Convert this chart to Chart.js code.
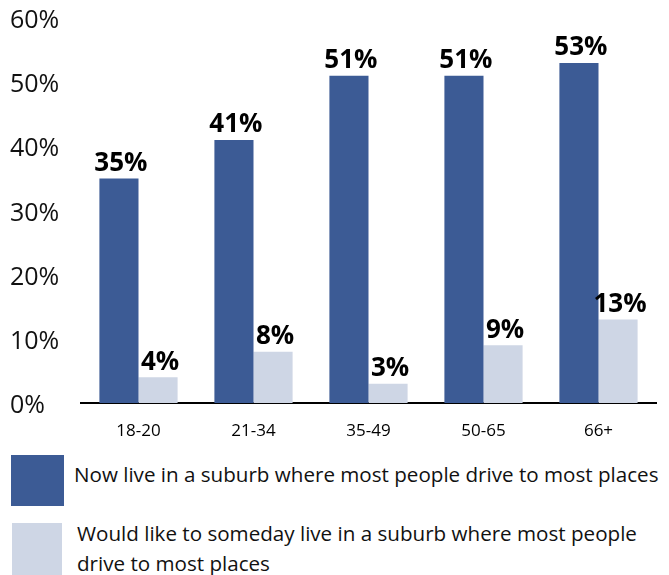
<!DOCTYPE html>
<html lang="en">
<head>
  <meta charset="UTF-8">
  <title>Suburb living by age</title>
  <script src="https://cdn.jsdelivr.net/npm/chart.js"></script>
  <style>
    body {
      margin: 0;
      font-family: "Open Sans", Arial, sans-serif;
      background-color: #fff;
      width: 669px;
      height: 575px;
      overflow: hidden;
      position: relative;
    }

    .chart-box {
      position: absolute;
      left: 0;
      top: 0;
      width: 669px;
      height: 448px;
    }

    .legend-item {
      position: absolute;
      display: flex;
      align-items: flex-start;
    }

    .swatch {
      width: 53px;
      height: 51px;
      flex: none;
    }

    .legend-text {
      font-size: 20.6px;
      line-height: 30px;
      color: #111;
      width: 590px;
    }
  </style>
</head>
<body>

  <div class="chart-box">
    <canvas id="suburbChart"></canvas>
  </div>

  <div id="legend"></div>

  <script>
    const ageGroups = ["18-20", "21-34", "35-49", "50-65", "66+"];
    const nowLive = [35, 41, 51, 51, 53];
    const wouldLike = [4, 8, 3, 9, 13];
    const yTicks = [0, 10, 20, 30, 40, 50, 60];

    const seriesNames = [
      "Now live in a suburb where most people drive to most places",
      "Would like to someday live in a suburb where most people drive to most places"
    ];
    const colors = ["#3c5b95", "#ced6e5"];

    // value labels on top of each bar
    const barLabels = {
      id: "barLabels",
      afterDatasetsDraw(chart) {
        const ctx = chart.ctx;
        ctx.save();
        ctx.font = "bold 26px 'Open Sans', Arial, sans-serif";
        ctx.fillStyle = "#000";
        ctx.textAlign = "center";
        ctx.textBaseline = "bottom";
        chart.data.datasets.forEach((ds, i) => {
          chart.getDatasetMeta(i).data.forEach((bar, j) => {
            ctx.fillText(ds.data[j] + "%", bar.x + 2, bar.y - 2);
          });
        });
        ctx.restore();
      }
    };

    const ctx = document.getElementById("suburbChart").getContext("2d");
    new Chart(ctx, {
      type: "bar",
      data: {
        labels: ageGroups,
        datasets: [
          {
            label: seriesNames[0],
            data: nowLive,
            backgroundColor: colors[0],
            categoryPercentage: 0.68,
            barPercentage: 1.0
          },
          {
            label: seriesNames[1],
            data: wouldLike,
            backgroundColor: colors[1],
            categoryPercentage: 0.68,
            barPercentage: 1.0
          }
        ]
      },
      options: {
        responsive: true,
        maintainAspectRatio: false,
        animation: false,
        layout: {
          padding: { left: 10, right: 13, top: 16, bottom: 0 }
        },
        plugins: {
          legend: { display: false },
          tooltip: { enabled: false }
        },
        scales: {
          x: {
            grid: { display: false, drawTicks: false },
            border: { display: true, color: "#000", width: 2 },
            ticks: {
              color: "#000",
              padding: 18,
              font: { family: "'Open Sans', Arial, sans-serif", size: 17 }
            },
            afterFit: s => { s.height = 45; }
          },
          y: {
            min: 0,
            max: 60,
            afterBuildTicks: s => { s.ticks = yTicks.map(v => ({ value: v })); },
            grid: { display: false, drawTicks: false },
            border: { display: false },
            ticks: {
              color: "#111",
              crossAlign: "far",
              labelOffset: 3,
              callback: v => v + "%",
              font: { family: "'Open Sans', Arial, sans-serif", size: 25 }
            },
            afterFit: s => { s.width = 71; }
          }
        }
      },
      plugins: [barLabels]
    });

    // html legend, positions per item
    const legendPos = [
      { left: 11, top: 455, gap: 10, textTop: 4 },
      { left: 12, top: 523, gap: 15, textTop: -5 }
    ];
    const legend = document.getElementById("legend");
    seriesNames.forEach((name, i) => {
      const item = document.createElement("div");
      item.className = "legend-item";
      item.style.left = legendPos[i].left + "px";
      item.style.top = legendPos[i].top + "px";
      const sw = document.createElement("div");
      sw.className = "swatch";
      sw.style.backgroundColor = colors[i];
      if (i === 1) { sw.style.width = "50px"; sw.style.height = "52px"; }
      const txt = document.createElement("div");
      txt.className = "legend-text";
      txt.style.marginLeft = legendPos[i].gap + "px";
      txt.style.marginTop = legendPos[i].textTop + "px";
      txt.textContent = name;
      item.appendChild(sw);
      item.appendChild(txt);
      legend.appendChild(item);
    });
  </script>
</body>
</html>
